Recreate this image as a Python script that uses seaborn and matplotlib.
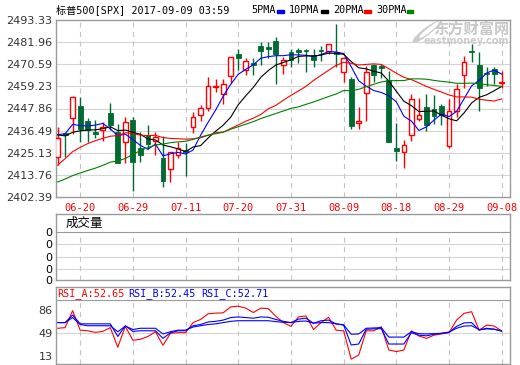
import numpy as np
import pandas as pd
import matplotlib
matplotlib.use('Agg')
import matplotlib.pyplot as plt
from matplotlib.patches import Rectangle, Ellipse
import seaborn as sns

sns.set_style('white')
plt.rcParams['font.family'] = ['DejaVu Sans', 'Noto Sans CJK SC']

dates = ['06-15','06-16','06-19','06-20','06-21','06-22','06-23','06-26','06-27','06-28',
         '06-29','06-30','07-03','07-05','07-06','07-07','07-10','07-11','07-12','07-13',
         '07-14','07-17','07-18','07-19','07-20','07-21','07-24','07-25','07-26','07-27',
         '07-28','07-31','08-01','08-02','08-03','08-04','08-07','08-08','08-09','08-10',
         '08-11','08-14','08-15','08-16','08-17','08-18','08-21','08-22','08-23','08-24',
         '08-25','08-28','08-29','08-30','08-31','09-01','09-05','09-06','09-07','09-08']
open_ = [2423.0,2435.2,2443.0,2449.0,2441.2,2436.0,2436.6,2445.6,2436.0,2430.8,
         2442.1,2427.4,2434.3,2431.4,2422.2,2416.6,2424.2,2426.5,2438.1,2444.7,
         2448.2,2458.9,2455.4,2464.6,2475.9,2467.6,2471.2,2480.2,2479.7,2482.5,
         2470.4,2476.8,2478.0,2478.0,2475.6,2477.9,2477.6,2476.8,2466.4,2462.9,
         2440.2,2455.6,2470.2,2469.5,2462.4,2427.7,2425.6,2434.3,2442.3,2448.5,
         2447.8,2449.4,2428.8,2446.4,2465.2,2477.6,2470.4,2466.0,2468.1,2461.0]
high = [2438.3,2435.5,2454.4,2453.9,2443.0,2442.1,2440.7,2450.8,2440.0,2443.5,
        2443.5,2436.0,2439.5,2436.0,2433.5,2425.6,2430.8,2430.0,2446.1,2449.6,
        2463.8,2462.9,2462.9,2474.2,2478.2,2473.6,2473.8,2482.0,2482.0,2484.6,
        2474.2,2478.2,2478.8,2478.5,2478.2,2480.2,2480.8,2491.5,2474.5,2464.1,
        2448.5,2469.8,2470.7,2470.7,2467.2,2440.4,2431.7,2455.4,2453.0,2455.1,
        2454.8,2450.2,2452.5,2460.6,2475.0,2480.8,2476.8,2469.0,2469.0,2467.2]
low = [2418.7,2423.0,2435.0,2430.5,2430.5,2432.6,2431.4,2436.6,2420.0,2420.0,
       2405.4,2420.5,2426.9,2423.9,2407.5,2410.1,2422.5,2413.2,2435.2,2441.6,
       2446.4,2456.5,2450.3,2461.2,2467.6,2465.0,2465.2,2470.4,2473.8,2460.3,
       2465.5,2469.0,2471.0,2466.4,2469.3,2472.5,2475.9,2469.0,2461.7,2437.3,
       2437.3,2441.6,2461.7,2463.4,2430.5,2420.8,2417.3,2431.2,2441.5,2436.4,
       2439.8,2439.5,2427.7,2443.3,2458.6,2471.9,2446.8,2459.5,2460.3,2458.6]
close = [2432.6,2434.0,2453.7,2437.4,2436.6,2434.8,2438.6,2439.5,2420.0,2440.7,
         2420.5,2423.9,2429.6,2433.1,2410.6,2425.6,2427.7,2425.3,2443.5,2448.2,
         2459.4,2459.2,2460.6,2474.2,2473.8,2472.4,2470.4,2477.6,2478.5,2475.9,
         2472.8,2472.8,2477.1,2477.6,2472.8,2477.3,2480.8,2475.9,2473.8,2439.0,
         2441.2,2466.4,2465.2,2468.6,2430.5,2426.0,2429.1,2452.9,2444.4,2439.5,
         2443.8,2444.4,2446.4,2458.0,2471.9,2476.9,2458.2,2465.4,2465.5,2461.6]

ma5 = [2434.4,2434.9,2439.7,2439.1,2438.9,2439.3,2440.2,2437.4,2433.9,2434.7,
       2431.9,2428.9,2426.9,2429.6,2423.5,2424.6,2425.3,2424.5,2426.5,2434.1,
       2440.8,2447.1,2454.2,2460.3,2465.4,2468.0,2470.3,2473.7,2474.5,2475.0,
       2475.0,2475.5,2475.4,2475.2,2474.6,2475.5,2477.1,2476.9,2476.1,2469.4,
       2462.1,2459.3,2457.1,2456.1,2454.4,2451.3,2443.9,2441.4,2436.6,2438.4,
       2441.9,2445.0,2443.7,2446.4,2452.9,2459.5,2462.3,2466.1,2467.6,2465.5]
ma10 = [2434.3,2433.8,2435.6,2436.4,2436.8,2436.9,2437.5,2438.5,2436.5,2436.8,
        2435.6,2434.6,2432.2,2431.7,2429.1,2428.2,2427.1,2425.7,2428.1,2428.8,
        2432.7,2436.2,2439.3,2443.4,2449.8,2454.4,2458.7,2463.9,2467.4,2470.2,
        2471.5,2472.9,2474.6,2474.9,2474.8,2475.3,2476.3,2476.2,2475.7,2472.0,
        2468.8,2468.2,2467.0,2466.1,2461.9,2456.7,2451.6,2449.3,2446.3,2446.4,
        2446.6,2444.4,2442.6,2441.5,2445.6,2450.7,2453.6,2454.9,2457.0,2459.2]
ma20 = [2418.7,2422.1,2425.7,2427.9,2429.8,2431.3,2432.5,2433.6,2434.0,2435.4,
        2435.0,2434.2,2433.9,2434.1,2432.9,2432.5,2432.3,2432.1,2432.3,2432.8,
        2434.1,2435.4,2435.7,2437.6,2439.4,2441.3,2442.9,2444.8,2447.7,2449.5,
        2452.1,2454.6,2456.9,2459.2,2462.3,2464.9,2467.5,2470.0,2471.6,2471.1,
        2470.2,2470.5,2470.8,2470.5,2468.3,2466.0,2463.9,2462.7,2461.0,2459.2,
        2457.7,2456.3,2454.8,2453.8,2453.8,2453.7,2452.6,2452.1,2451.7,2452.8]
ma30 = [2410.1,2411.6,2413.4,2414.7,2416.0,2417.2,2418.6,2420.3,2420.9,2422.2,
        2424.3,2426.2,2427.8,2429.1,2429.6,2430.3,2430.7,2431.0,2432.0,2433.2,
        2434.2,2434.9,2435.7,2437.2,2438.5,2439.8,2441.1,2442.7,2444.0,2445.3,
        2446.6,2447.9,2448.7,2450.0,2451.2,2452.6,2454.0,2455.3,2457.1,2457.0,
        2457.7,2459.1,2460.3,2461.5,2462.1,2462.2,2462.2,2463.1,2463.1,2462.9,
        2462.3,2461.8,2461.4,2460.8,2460.8,2460.9,2460.5,2460.1,2459.7,2459.2]

rsi_a = [57,58,85,54,53,50.5,52,58,27,60,38,39.5,44,51.5,30,49,50,50,66,71,
         80,81,81.5,91,92,89,82,89,88,76,66,60,75,76.5,55,66,74.5,54,53,8,
         14.5,53,53,59.5,22.5,20,22.5,53,44.7,41,46,48,50,70,80.7,83.3,54,62,60.5,52.65]
rsi_b = [66,66,78,64,64,64,64,64,44,61,52,53,53,53,41,50,53,53,61,63,
         67,68,70,74,75,74,73,75,74.5,71,68,66,71.5,73,65,69,70,64,62,30.5,
         32,55.5,56,56.5,32,32,32,50,46,45,47.5,49,50.5,60,65.5,66,54,57,55.5,52.45]
rsi_c = [66,66,74,63,61,61,61,61,51.5,60.5,55,57,57,57,48,51.5,54,54,59,61,
         63,64,66,68,69,69,69,69,69,67.5,66.5,66,68,68.5,65,66,66,64,62.5,47.5,
         48,57,57.5,58,43,43,43,51.5,48.5,48,48.5,49,51,57,60.5,61,55,56,55.5,52.71]
vol = [0] * 60
price_ticks = [2402.39,2413.76,2425.13,2436.49,2447.86,2459.23,2470.59,2481.96,2493.33]
rsi_ticks = [13, 49, 86]

W, H = 520, 365
fig = plt.figure(figsize=(W/100, H/100), dpi=100)
def box(x0, y0, x1, y1):
    return [x0/W, 1 - y1/H, (x1-x0)/W, (y1-y0)/H]

RED = '#ff0000'; GRN = '#006a33'; FRAME = '#9a9a9a'; GRID = '#d4d4d4'; VGRID = '#c4c4c4'
idx = np.arange(len(dates))
xl = (-0.21, 60.1)
lab_pos = list(range(3, len(dates), 7))
mono = ['DejaVu Sans Mono', 'Noto Sans CJK SC']

ax = fig.add_axes(box(56, 20, 510, 197))
axv = fig.add_axes(box(56, 214, 510, 280))
axr = fig.add_axes(box(56, 287, 510, 364))
for a in (ax, axv, axr):
    a.set_xlim(*xl)
    for sp in a.spines.values():
        sp.set_color(FRAME); sp.set_linewidth(1.0)
    a.tick_params(axis='both', length=0, labelsize=8, labelcolor='#333333', pad=2.5)

# ---- main price panel
ax.set_ylim(price_ticks[0], price_ticks[-1])
ax.set_yticks(price_ticks)
ax.set_yticklabels([f'{v:.2f}' for v in price_ticks])
for v in price_ticks[1:-1]:
    ax.axhline(v, color=GRID, lw=0.8, zorder=0)
for p in lab_pos:
    ax.axvline(p, color=VGRID, lw=0.8, ls=(0, (4.5, 4)), zorder=0)
ax.set_xticks(lab_pos)
ax.set_xticklabels([dates[p] for p in lab_pos], fontsize=7.5, family=['DejaVu Sans Mono'])
ax.tick_params(axis='x', pad=4, labelcolor=RED)

o = np.array(open_); c = np.array(close); hi = np.array(high); lo = np.array(low)
up = c >= o
bot = np.minimum(o, c); top = np.maximum(o, c)
hgt = np.maximum(top - bot, 0.35)
ax.vlines(idx[~up], lo[~up], hi[~up], color=GRN, lw=1.0, zorder=2)
ax.bar(idx[~up], hgt[~up], bottom=bot[~up], width=0.64, color=GRN, edgecolor=GRN, lw=0.6, zorder=3)
ax.vlines(idx[up], lo[up], bot[up], color=RED, lw=1.0, zorder=2)
ax.vlines(idx[up], top[up], hi[up], color=RED, lw=1.0, zorder=2)
ax.bar(idx[up], hgt[up], bottom=bot[up], width=0.62, facecolor='white', edgecolor=RED, lw=1.0, zorder=3)

ma_df = pd.DataFrame({'i': idx, 'MA5': ma5, 'MA10': ma10, 'MA20': ma20, 'MA30': ma30})
for col, colr in (('MA5', '#0000ff'), ('MA10', '#000000'), ('MA20', RED), ('MA30', '#008000')):
    sns.lineplot(data=ma_df, x='i', y=col, ax=ax, color=colr, lw=0.8, zorder=4, legend=False)
ax.set_xlabel(''); ax.set_ylabel('')
ax.set_xlim(*xl)

# watermark
ax.text(0.998, 0.949, '东方财富网', transform=ax.transAxes, ha='right', va='center',
        fontsize=11, fontweight='bold', color='#c8c8c8', family=['Noto Sans CJK SC'], zorder=1)
ax.text(0.998, 0.881, 'eastmoney.com', transform=ax.transAxes, ha='right', va='center',
        fontsize=7, fontweight='bold', color='#cccccc', zorder=1)
ax.add_patch(Ellipse(((426-56)/454, 1-(32-20)/177), 9/454, 22/177, angle=-25,
                     transform=ax.transAxes, color='#cccccc', zorder=1))
ax.add_patch(Ellipse(((429-56)/454, 1-(30-20)/177), 4/454, 16/177, angle=-25,
                     transform=ax.transAxes, color='white', zorder=1))

# ---- volume panel
axv.bar(idx, vol, width=0.6, color=GRN)
axv.set_ylim(0, 66)
axv.set_yticks([0, 11, 23, 36, 48])
axv.set_yticklabels(['0'] * 5)
axv.tick_params(axis='y', labelcolor='#000000')
axv.set_xticks([])
for v in (11, 23, 36):
    axv.axhline(v, color=GRID, lw=0.8, zorder=0)
axv.axhline(48, color=FRAME, lw=0.8, zorder=1)
for p in lab_pos:
    axv.vlines(p, 0, 48, color=VGRID, lw=0.8, ls=(0, (4.5, 4)), zorder=0)
axv.text(1, 57, '成交量', ha='left', va='center', fontsize=9, color='#000000',
         family=['Noto Sans CJK SC'])
axv.set_xlim(*xl)

# ---- RSI panel
axr.set_ylim(0.3, 122.5)
axr.set_yticks(rsi_ticks)
axr.set_yticklabels([str(t) for t in rsi_ticks])
axr.set_xticks([])
axr.axhline(49, color=GRID, lw=0.8, zorder=0)
axr.axhline(101.9, color=FRAME, lw=0.8, zorder=1)
for p in lab_pos:
    axr.vlines(p, 0.3, 101.9, color=VGRID, lw=0.8, ls=(0, (4.5, 4)), zorder=0)
rsi_df = pd.DataFrame({'i': idx, 'A': rsi_a, 'B': rsi_b, 'C': rsi_c})
for col, colr in (('A', RED), ('B', '#0000ff'), ('C', '#0000ff')):
    sns.lineplot(data=rsi_df, x='i', y=col, ax=axr, color=colr, lw=0.8, zorder=3, legend=False)
axr.set_xlabel(''); axr.set_ylabel('')
axr.set_xlim(*xl)
for txt, x0, colr in ((f'RSI_A:{rsi_a[-1]:.2f}', 57, RED), (f'RSI_B:{rsi_b[-1]:.2f}', 128, '#0000ff'),
                      (f'RSI_C:{rsi_c[-1]:.2f}', 201, '#0000ff')):
    fig.text(x0/W, 1 - 294/H, txt, ha='left', va='center', fontsize=7.3, color=colr, family=mono)

# ---- header
fig.text(56.5/W, 1 - 10/H, '标普500[SPX] 2017-09-09 03:59', ha='left', va='center',
         fontsize=7.3, color='#000000', family=mono)
for txt, tx, (d0, d1), colr in (('5PMA', 251, (277, 284), '#0000ff'), ('10PMA', 289, (321, 328), '#000000'),
                                ('20PMA', 333, (364, 371), RED), ('30PMA', 376, (407, 413), '#008000')):
    fig.text(tx/W, 1 - 10/H, txt, ha='left', va='center', fontsize=7.3, color='#000000', family=mono)
    fig.patches.append(Rectangle((d0/W, 1 - 13/H), (d1-d0)/W, 3/H, transform=fig.transFigure,
                                 color=colr, figure=fig))

fig.savefig('out.png', dpi=100)
